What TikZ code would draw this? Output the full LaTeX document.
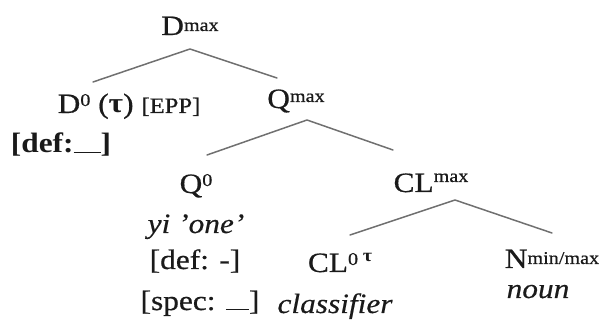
\documentclass[tikz,border=0pt]{standalone}
\usepackage{fontspec}
\setmainfont{Liberation Serif}[
  FakeStretch=1.12,
  UprightFont=*,
  BoldFont=* Bold,
  ItalicFont=* Italic,
  BoldItalicFont=* Bold Italic,
  UprightFeatures={FakeBold=0.6},
  ItalicFeatures={FakeBold=0.4}]

\definecolor{ink}{HTML}{1A1A1A}
\definecolor{edge}{HTML}{707070}

% small raised text (superscripts): #1 = raise, #2 = text
\newcommand{\hi}[2]{\raisebox{#1}{\fontsize{18}{18}\selectfont #2}}
% blank slot of a feature
\newcommand{\blank}[1]{\rule[-0.5pt]{#1}{1.8pt}}

\tikzset{
  lbl/.style={anchor=base, inner sep=0pt, text=ink, font=\fontsize{28}{33}\selectfont},
  gloss/.style={lbl, font=\fontsize{28}{33}\selectfont\itshape},
  branch/.style={draw=edge, line width=1.5pt, line cap=round, line join=round},
}

\begin{document}
\begin{tikzpicture}
\useasboundingbox (0pt,0pt) rectangle (606pt,-320pt);

% labels
\node[lbl] (dmax) at (190pt,-35pt) {D\hi{4pt}{max}};
\node[lbl] (d0) at (129pt,-113pt) {D\hi{7pt}{0} (\textbf{τ}) {\fontsize{22}{22}\selectfont[EPP]}};
\node[lbl, font=\fontsize{28}{33}\selectfont\bfseries] (ddef) at (61pt,-153pt) {[def:\blank{27pt}]};
\node[lbl] (qmax) at (296pt,-108pt) {Q\hi{6pt}{max}};
\node[lbl] (q0) at (196pt,-193pt) {Q\hi{7pt}{0}};
\node[gloss] (yi) at (196pt,-233pt) {yi 'one'};
\node[lbl] (qdef) at (195pt,-269pt) {[def: -]};
\node[lbl] (qspec) at (200pt,-310pt) {[spec: \blank{23pt}]};
\node[lbl] (cl0) at (340pt,-272pt) {CL\hi{7pt}{0}\,\hi{10pt}{\textbf{τ}}};
\node[gloss] (clf) at (335pt,-313pt) {classifier};
\node[lbl] (clmax) at (431pt,-192pt) {CL\hi{10pt}{max}};
\node[lbl] (n) at (552pt,-268pt) {N\hi{4pt}{min/max}};
\node[gloss] (noun) at (538pt,-298pt) {noun};

% branch points
\coordinate (dtop) at (190pt,-49pt);
\coordinate (dl) at (93pt,-82pt);
\coordinate (dr) at (277pt,-78pt);
\coordinate (qtop) at (307pt,-120pt);
\coordinate (ql) at (207pt,-155pt);
\coordinate (qr) at (393pt,-150pt);
\coordinate (cltop) at (455pt,-200pt);
\coordinate (cll) at (350pt,-235pt);
\coordinate (clr) at (552pt,-233pt);

% branches
\draw[branch] (dl) -- (dtop) -- (dr);
\draw[branch] (ql) -- (qtop) -- (qr);
\draw[branch] (cll) -- (cltop) -- (clr);
\end{tikzpicture}
\end{document}
